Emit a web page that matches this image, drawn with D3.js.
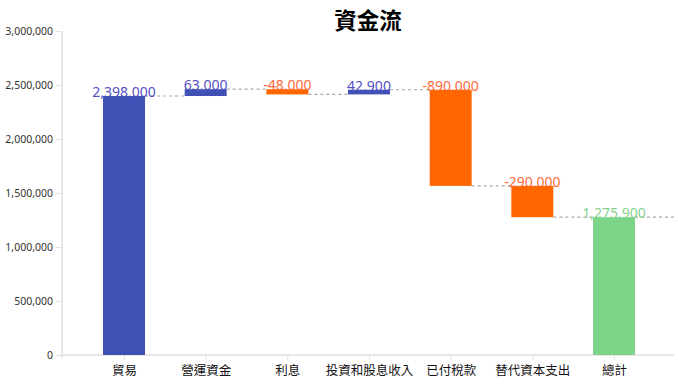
<!DOCTYPE html>
<html lang="zh-Hant">
<head>
<meta charset="UTF-8">
<title>資金流</title>
<script src="https://cdnjs.cloudflare.com/ajax/libs/d3/7.8.5/d3.min.js"></script>
<style>
  body { margin: 0; background: #fff; }
  svg { display: block; }
</style>
</head>
<body>
<svg id="chart" width="678" height="390"></svg>
<script>
// data
const categories = ['貿易', '營運資金', '利息', '投資和股息收入', '已付稅款', '替代資本支出', '總計'];
const values = [2398000, 63000, -48000, 42900, -890000, -290000, 1275900];
const isTotal = [false, false, false, false, false, false, true];
const yTicks = [0, 500000, 1000000, 1500000, 2000000, 2500000, 3000000];

const colors = { up: '#3f51b5', down: '#ff6600', total: '#7dd387' };
const labelColors = { up: '#5350c4', down: '#ff6a3a', total: '#88d28e' };

const W = 678, H = 390;
const margin = { top: 31, right: 4, bottom: 35, left: 62 };
const svg = d3.select('#chart');
const fmt = d3.formatLocale({ decimal: '.', thousands: ',', grouping: [3], currency: ['', ''], minus: '-' }).format(',');

// running totals
let run = 0;
const bars = categories.map((c, i) => {
  const v = values[i];
  let start, end, kind;
  if (isTotal[i]) { start = 0; end = v; kind = 'total'; run = v; }
  else { start = run; end = run + v; run = end; kind = v >= 0 ? 'up' : 'down'; }
  return { cat: c, v, start, end, kind };
});

const x = d3.scalePoint().domain(categories)
  .range([margin.left + 2, W - margin.right]).padding(0.735);
const y = d3.scaleLinear().domain([0, 3000000]).range([H - margin.bottom, margin.top]);
const bw = 42;

// title
svg.append('text')
  .attr('x', (margin.left + W - margin.right) / 2).attr('y', 29)
  .attr('text-anchor', 'middle')
  .style('font-family', '"Noto Sans CJK TC", "Noto Sans", sans-serif')
  .style('font-weight', 'bold').style('font-size', '22.5px').style('fill', '#000')
  .text('資金流');

// y axis
const yAxis = svg.append('g')
  .attr('transform', `translate(${margin.left},0)`)
  .call(d3.axisLeft(y).tickValues(yTicks).tickSize(6).tickPadding(3).tickFormat(fmt));
yAxis.select('.domain').attr('stroke', '#d0d0d0').attr('d', `M0,${margin.top}V${H - margin.bottom + 3}`);
yAxis.selectAll('.tick line').attr('stroke', '#e2e2e2');
yAxis.selectAll('text')
  .style('font-family', '"Noto Sans", sans-serif').style('font-size', '10.5px').style('fill', '#333');

// x axis
const xAxis = svg.append('g')
  .attr('transform', `translate(0,${H - margin.bottom})`)
  .call(d3.axisBottom(x).tickSize(5).tickPadding(6));
xAxis.select('.domain').attr('stroke', '#d0d0d0').attr('d', `M${margin.left},0H${W - margin.right}`);
xAxis.selectAll('.tick line').attr('stroke', '#e2e2e2');
xAxis.selectAll('text')
  .style('font-family', '"Noto Sans CJK TC", sans-serif').style('font-size', '12.5px').style('fill', '#111');

// connector lines
const conn = svg.append('g');
bars.forEach((b, i) => {
  const x1 = x(b.cat) + bw / 2;
  const x2 = i < bars.length - 1 ? x(bars[i + 1].cat) - bw / 2 : W - margin.right;
  conn.append('line')
    .attr('x1', x1).attr('x2', x2)
    .attr('y1', y(b.end)).attr('y2', y(b.end))
    .attr('stroke', '#a8a8a8').attr('stroke-width', 1.2).attr('stroke-dasharray', '3,3');
});

// bars
svg.append('g').selectAll('rect').data(bars).join('rect')
  .attr('x', d => x(d.cat) - bw / 2)
  .attr('width', bw)
  .attr('y', d => y(Math.max(d.start, d.end)))
  .attr('height', d => Math.abs(y(d.start) - y(d.end)))
  .attr('fill', d => colors[d.kind]);

// value labels
svg.append('g').selectAll('text').data(bars).join('text')
  .attr('x', d => x(d.cat))
  .attr('y', d => y(Math.max(d.start, d.end)) + 1)
  .attr('text-anchor', 'middle')
  .style('font-family', '"Noto Sans", sans-serif').style('font-size', '14px')
  .style('fill', d => labelColors[d.kind])
  .text(d => fmt(d.v));
</script>
</body>
</html>
